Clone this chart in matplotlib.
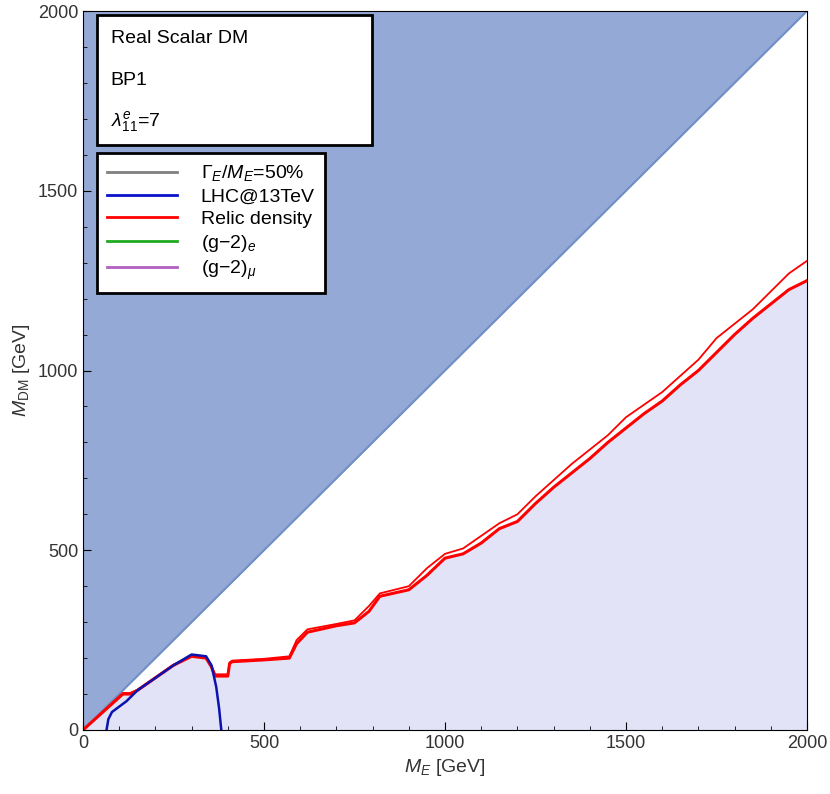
import numpy as np
import matplotlib
matplotlib.use("Agg")
from matplotlib import pyplot as plt
from matplotlib.lines import Line2D
from matplotlib.patches import Rectangle

plt.rcParams['font.family'] = 'Liberation Sans'
plt.rcParams['mathtext.fontset'] = 'custom'
plt.rcParams['mathtext.it'] = 'Liberation Sans:italic'
plt.rcParams['mathtext.rm'] = 'Liberation Sans'

# --- data (GeV) ---
relic_lo_x = [0, 110, 130, 150, 200, 250, 300, 340, 355, 365, 400, 405, 412, 500, 570, 590, 620,
              700, 750, 790, 820, 900, 950, 1000, 1050, 1100, 1150, 1200, 1250, 1300, 1350,
              1400, 1450, 1500, 1550, 1600, 1650, 1700, 1750, 1800, 1850, 1900, 1950, 2000]
relic_lo_y = [0, 100, 100, 110, 145, 180, 205, 200, 175, 150, 150, 185, 190, 195, 200, 240, 272,
              290, 298, 330, 372, 390, 430, 478, 490, 520, 560, 580, 630, 675, 715,
              755, 800, 840, 880, 915, 960, 1000, 1050, 1100, 1145, 1185, 1225, 1250]
relic_hi_x = [0, 110, 130, 150, 200, 250, 300, 340, 355, 365, 400, 405, 412, 500, 570, 590, 620,
              700, 750, 790, 820, 900, 950, 1000, 1050, 1100, 1150, 1200, 1250, 1300, 1350,
              1400, 1450, 1500, 1550, 1600, 1650, 1700, 1750, 1800, 1850, 1900, 1950, 2000]
relic_hi_y = [0, 103, 103, 112, 147, 182, 207, 202, 178, 155, 155, 188, 193, 198, 205, 250, 280,
              295, 305, 345, 380, 400, 450, 490, 505, 540, 575, 600, 650, 695, 740,
              780, 820, 870, 905, 940, 985, 1030, 1090, 1130, 1170, 1220, 1270, 1305]
lhc_x = [65, 70, 80, 120, 150, 200, 250, 300, 340, 355, 368, 376, 382]
lhc_y = [0, 30, 50, 80, 110, 145, 180, 210, 205, 180, 120, 60, 0]
diag = [0, 2000]

fig = plt.figure(figsize=(8.30, 7.94), dpi=100)
ax = fig.add_axes([83/830, 64/794, 724/830, 719/794])

ax.fill_between(diag, diag, 2000, color='#95a9d6', lw=0)
ax.plot(diag, diag, color='#6f8fc6', lw=1.5)
ax.fill_between(relic_lo_x, 0, relic_lo_y, color='#e3e3f8', lw=0)
ax.plot(relic_hi_x, relic_hi_y, color='red', lw=1.3)
ax.plot(relic_lo_x, relic_lo_y, color='red', lw=2.2)
ax.plot(lhc_x, lhc_y, color='#0a12b0', lw=1.8)

ax.set_xlim(0, 2000)
ax.set_ylim(0, 2000)
ax.set_xticks([0, 500, 1000, 1500, 2000])
ax.set_yticks([0, 500, 1000, 1500, 2000])
ax.set_xticks(np.arange(0, 2001, 100), minor=True)
ax.set_yticks(np.arange(0, 2001, 100), minor=True)
ax.tick_params(which='both', direction='in', top=False, right=False, labelsize=13,
               labelcolor='#333333')
ax.tick_params(which='major', length=6)
ax.tick_params(which='minor', length=3)
ax.set_xlabel(r'$M_E$ [GeV]', fontsize=14, color='#333333')
ax.set_ylabel(r'$M_{\rm DM}$ [GeV]', fontsize=14, color='#333333')

# text box
ax.add_patch(Rectangle((0.019, 0.814), 0.38, 0.18, transform=ax.transAxes,
                       fc='white', ec='black', lw=2, zorder=5))
for i, s in enumerate(['Real Scalar DM', 'BP1', r'$\lambda^e_{11}$=7']):
    ax.text(0.038, 0.962 - i * 0.058, s, transform=ax.transAxes, va='center', ha='left',
            fontsize=14, zorder=6)

handles = [Line2D([], [], color='gray', lw=2), Line2D([], [], color='#0a12cc', lw=2),
           Line2D([], [], color='red', lw=2), Line2D([], [], color='#1faa1f', lw=2),
           Line2D([], [], color='#b060c0', lw=2)]
labels = [r'$\Gamma_E/M_E$=50%', 'LHC@13TeV', 'Relic density', r'(g$-$2)$_e$', r'(g$-$2)$_\mu$']
leg = ax.legend(handles, labels, loc='upper left', bbox_to_anchor=(0.019, 0.803), fontsize=14,
                fancybox=False, framealpha=1, edgecolor='black', handlelength=3.6,
                labelspacing=0.25, borderpad=0.55, borderaxespad=0, handletextpad=1.2)
leg.get_frame().set_linewidth(2)

fig.savefig('out.png', dpi=100)
